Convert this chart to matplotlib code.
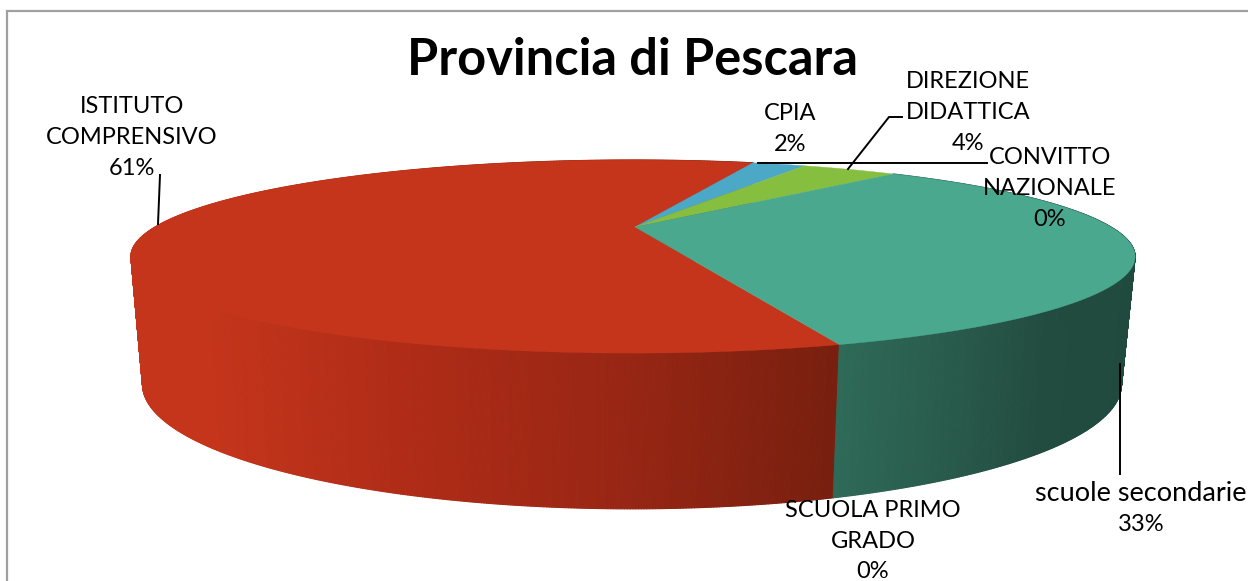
import numpy as np
import matplotlib
matplotlib.use("Agg")
import matplotlib.pyplot as plt
from matplotlib.collections import PolyCollection
from matplotlib.colors import to_rgb

title = "Provincia di Pescara"
categories = ["ISTITUTO\nCOMPRENSIVO", "CPIA", "DIREZIONE\nDIDATTICA",
              "CONVITTO\nNAZIONALE", "scuole secondarie", "SCUOLA PRIMO\nGRADO"]
values = [60.2, 2.3, 4.1, 0.0, 33.4, 0.0]
percent_labels = ["61%", "2%", "4%", "0%", "33%", "0%"]
top_colors = ["#c4351b", "#4ba8c6", "#86bf40", "#7f5fa8", "#4aa88f", "#e08a2c"]
# colour of the shaded rim: (screen x, colour) stops per slice
side_stops = {0: [(140, "#c4351b"), (210, "#c4351b"), (400, "#b02c17"), (620, "#982614"), (840, "#771f0f")],
              4: [(833, "#2f6a58"), (960, "#28594a"), (1040, "#224c3f"), (1140, "#204a3d")]}

plt.rcParams["font.family"] = ["Lato", "DejaVu Sans"]
fig = plt.figure(figsize=(12.48, 5.81), dpi=100)
ax = fig.add_axes([0, 0, 1, 1])
ax.set_xlim(0, 1248)
ax.set_ylim(581, 0)
ax.axis("off")

# chart frame
ax.plot([7, 7, 1248], [581, 11, 11], color="#a0a0a0", lw=1.6, solid_joinstyle="miter")

# perspective projection of the pie disc
K = 0.306
def project(theta, X0, Y0, A, B):
    x, y = np.sin(theta), np.cos(theta)
    w = 1 + K * y
    return X0 + A * x / w, Y0 - B * y / w

TOP = dict(X0=633, Y0=227, A=478, B=87.5)
BOT = dict(X0=632, Y0=346, A=466, B=113)

fractions = np.array(values) / sum(values)
start = np.deg2rad(18.9) - 2 * np.pi * fractions[0]
edges = start + 2 * np.pi * np.concatenate([[0], np.cumsum(fractions)])

def side_colour(i, x):
    stops = side_stops[i]
    xs = [s[0] for s in stops]
    rgb = np.array([to_rgb(s[1]) for s in stops])
    return tuple(np.interp(x, xs, rgb[:, c]) for c in range(3))

# rim
quads, cols = [], []
for i, f in enumerate(fractions):
    if f == 0 or i not in side_stops:
        continue
    th = np.linspace(edges[i], edges[i + 1], int(f * 1500) + 2)
    xt, yt = project(th, **TOP)
    xb, yb = project(th, **BOT)
    for j in range(len(th) - 1):
        quads.append([(xt[j], yt[j]), (xt[j + 1], yt[j + 1]), (xb[j + 1], yb[j + 1]), (xb[j], yb[j])])
        cols.append(side_colour(i, (xt[j] + xt[j + 1] + xb[j] + xb[j + 1]) / 4))
ax.add_collection(PolyCollection(quads, facecolors=cols, edgecolors=cols, linewidths=0.8, zorder=2))

# top face
for i, f in enumerate(fractions):
    if f == 0:
        continue
    th = np.linspace(edges[i], edges[i + 1], int(f * 800) + 2)
    xt, yt = project(th, **TOP)
    ax.fill(np.r_[TOP["X0"] + 2, xt], np.r_[TOP["Y0"], yt], color=top_colors[i], lw=0.3, zorder=3)

# leader lines
leaders = [([158, 160], [224, 175]), ([758, 987], [163, 163]),
           ([848, 889, 902], [169, 117, 117]), ([1120, 1120], [364, 474])]
for lx, ly in leaders:
    ax.plot(lx, ly, color="black", lw=1.4, zorder=4, solid_joinstyle="miter")

# labels: centre x, baseline of every line
label_x = [132, 790, 968, 1050, 1141, 873]
label_baselines = [[113, 144, 175], [120, 151], [88, 119, 150], [164, 195, 226], [501, 531], [517, 548, 578]]
for name, pct, x, bases in zip(categories, percent_labels, label_x, label_baselines):
    for line, y in zip(name.split("\n") + [pct], bases):
        size = 19.5 if line.islower() else 17
        ax.text(x, y, line, ha="center", va="baseline", fontsize=size, color="black", zorder=5)

ax.text(632.5, 75, title, ha="center", va="baseline", fontsize=36.4, fontweight="bold",
        color="black", zorder=5)
fig.savefig("out.png", dpi=100, facecolor="white")
